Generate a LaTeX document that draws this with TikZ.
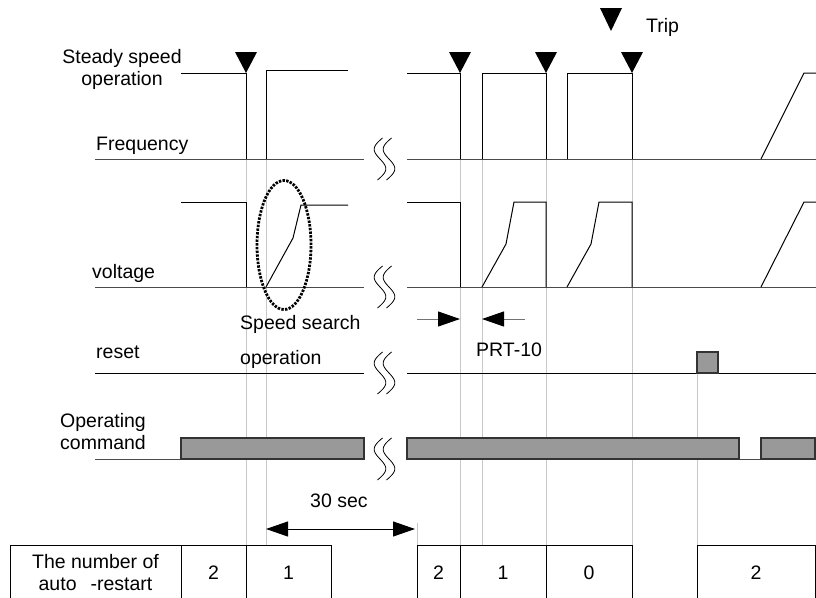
\documentclass[tikz,border=0pt]{standalone}
\usepackage{fontspec}
\setmainfont{Liberation Sans}
\usetikzlibrary{positioning,arrows.meta}
\definecolor{guidegray}{HTML}{C8C8C8}
\definecolor{barfill}{HTML}{999999}
\definecolor{baredge}{HTML}{333333}
\definecolor{axisgray}{HTML}{4A4A4A}
\tikzset{
    every node/.style={font=\fontsize{19.5}{22}\selectfont,inner sep=0pt},
    lbl/.style={anchor=base west},
    sig/.style={draw=black,line width=1pt},
    zeroline/.style={draw=axisgray,line width=1pt},
    guide/.style={draw=guidegray,line width=1pt},
    cmdbar/.style={draw=baredge,fill=barfill,line width=1.3pt},
    brk/.style={draw=black,line width=0.8pt},
    search/.style={draw=black,line width=2.8pt,dash pattern=on 2.4pt off 1.3pt},
    cell/.style={draw=black,line width=1pt,outer sep=0pt,anchor=north west,minimum height=56pt,align=center},
    dimarrow/.style={line width=1pt,draw=black!55,-{Triangle[length=22pt,width=15pt,black]}},
    dimboth/.style={line width=1pt,{Triangle[length=22pt,width=15pt]}-{Triangle[length=22pt,width=15pt]}}
}
\begin{document}
\begin{tikzpicture}[x=1pt,y=-1pt,node distance=0pt]
    \useasboundingbox (0,0) rectangle (816,597);
    \clip (0,0) rectangle (816,597);
    \foreach \t in {246,266,460,482,546,632}
        \draw[guide] (\t,159) -- (\t,545);
    \draw[guide] (697,352) -- (697,545);
    \draw[guide] (417,523) -- (417,545);
    \node[anchor=north,align=center] (steady) at (122,49) {Steady speed\\operation};
    \node[lbl] (freq) at (96,150) {Frequency};
    \node[lbl] (volt) at (92,278) {voltage};
    \node[lbl] (rst) at (96,358) {reset};
    \node[anchor=north west,align=left] (opcmd) at (60,413) {Operating\\command};
    \node[lbl] (srch) at (240,329) {Speed search};
    \node[lbl] (srchop) at (240,364) {operation};
    \node[lbl] (trip) at (646,32) {Trip};
    \node[lbl] (prt) at (476,356) {PRT-10};
    \node[lbl] (wait) at (310,507) {30 sec};
    \foreach \y in {159,287}
        \draw[zeroline] (95,\y) -- (364,\y) (407,\y) -- (816,\y);
    \draw[sig] (95,373) -- (364,373) (407,373) -- (816,373);
    \draw[zeroline] (95,459) -- (181,459) (739,459) -- (761,459);
    \draw[sig] (181,73) -- (246,73) -- (246,159);
    \draw[sig] (266,159) -- (266,70) -- (348,70);
    \draw[sig] (407,73) -- (460,73) -- (460,159);
    \draw[sig] (482,159) -- (482,73) -- (546,73) -- (546,159);
    \draw[sig] (567,159) -- (567,73) -- (632,73) -- (632,159);
    \draw[sig] (761,159) -- (804,73) -- (816,73);
    \draw[sig] (181,202) -- (246,202) -- (246,287);
    \draw[sig] (266,287) -- (293,238) -- (301,205) -- (348,205);
    \draw[sig] (407,202) -- (460,202) -- (460,287);
    \draw[sig] (482,287) -- (506,244) -- (514,202) -- (546,202) -- (546,287);
    \draw[sig] (567,287) -- (591,244) -- (599,202) -- (632,202) -- (632,287);
    \draw[sig] (761,287) -- (804,202) -- (816,202);
    \draw[search] (284,245) ellipse [x radius=27pt,y radius=64.5pt];
    \foreach \t in {246,460,546,632}
        \fill (\t-11,52) -- (\t+11,52) -- (\t,73) -- cycle;
    \fill (600,8) -- (622,8) -- (611,31) -- cycle;
    \foreach \y in {159,287,373,459}
        \foreach \dx in {0,9}
            \draw[brk] plot[domain=-1:1,samples=31,smooth]
                ({380+\dx-2.5*\x+7*sin(180*\x)},{\y+21*\x});
    \draw[cmdbar] (697,352) rectangle (718,373);
    \draw[cmdbar] (181,438) rectangle (364,459);
    \draw[cmdbar] (407,438) rectangle (739,459);
    \draw[cmdbar] (761,438) rectangle (815,459);
    \coordinate (ws) at (266,529);
    \coordinate (we) at (415,529);
    \coordinate (pa) at (417,319);
    \coordinate (pb) at (460,319);
    \coordinate (pc) at (525,319);
    \coordinate (pd) at (482,319);
    \draw[dimboth] (ws) -- (we);
    \draw[dimarrow] (pa) -- (pb);
    \draw[dimarrow] (pc) -- (pd);
    \node[cell,minimum width=171pt] (cnt) at (10,545) {The number of\\auto\hspace{14pt}-restart};
    \node[cell,minimum width=65pt,right=of cnt] (n1) {2};
    \node[cell,minimum width=85pt,right=of n1] (n2) {1};
    \node[cell,minimum width=43pt] (n3) at (417,545) {2};
    \node[cell,minimum width=86pt,right=of n3] (n4) {1};
    \node[cell,minimum width=86pt,right=of n4] (n5) {0};
    \node[cell,minimum width=118pt] (n6) at (697,545) {2};
\end{tikzpicture}
\end{document}
